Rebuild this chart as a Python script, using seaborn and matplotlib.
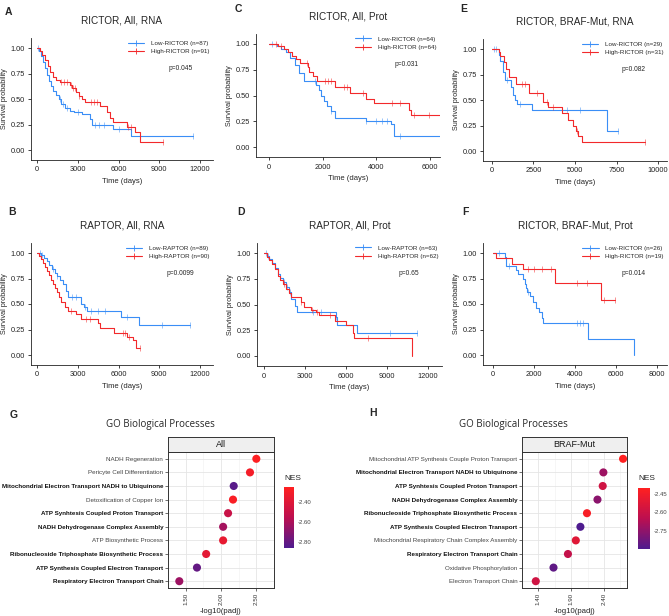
import numpy as np
import pandas as pd
import seaborn as sns
import matplotlib.pyplot as plt
from matplotlib.colors import LinearSegmentedColormap, Normalize
from matplotlib.cm import ScalarMappable
from matplotlib.lines import Line2D

# --- Kaplan-Meier curves: step times (days) and survival after each step ---
a_low_t = [0, 150, 300, 450, 600, 750, 900, 1050, 1200, 1400, 1600, 1800, 2050, 2400, 2700, 3300, 3900, 4050, 5600, 6950, 11500]
a_low_s = [1.0, 0.97, 0.92, 0.86, 0.80, 0.74, 0.68, 0.63, 0.58, 0.54, 0.50, 0.45, 0.41, 0.38, 0.37, 0.35, 0.30, 0.25, 0.21, 0.14, 0.14]
a_low_cens = [100, 1700, 1900, 2200, 3000, 4300, 4600, 4900, 6000, 11500]
a_high_t = [0, 200, 400, 600, 800, 950, 1150, 1400, 1700, 2400, 2600, 2900, 3100, 3300, 3530, 4650, 5150, 5390, 5620, 6600, 7200, 7550, 9250]
a_high_s = [1.0, 0.97, 0.93, 0.88, 0.82, 0.76, 0.72, 0.69, 0.67, 0.64, 0.61, 0.57, 0.53, 0.50, 0.47, 0.43, 0.37, 0.31, 0.27, 0.23, 0.18, 0.08, 0.08]
a_high_cens = [1800, 2000, 2200, 2500, 2650, 2800, 3100, 4000, 4200, 4400, 6700, 6900, 9250]

b_low_t = [0, 300, 500, 700, 900, 1100, 1300, 1500, 1700, 1900, 2100, 2300, 3250, 3450, 3700, 6150, 7520, 11300]
b_low_s = [1.0, 0.98, 0.95, 0.92, 0.88, 0.84, 0.80, 0.77, 0.74, 0.70, 0.63, 0.57, 0.50, 0.47, 0.43, 0.37, 0.29, 0.29]
b_low_cens = [200, 400, 1200, 1500, 2600, 2900, 3500, 4000, 4500, 5000, 6600, 9200, 11300]
b_high_t = [0, 150, 300, 450, 600, 750, 900, 1050, 1200, 1350, 1500, 1650, 1800, 2050, 2300, 2900, 3250, 4500, 4650, 5700, 6600, 7050, 7300, 7600]
b_high_s = [1.0, 0.97, 0.94, 0.90, 0.86, 0.82, 0.78, 0.74, 0.70, 0.66, 0.62, 0.57, 0.52, 0.47, 0.43, 0.40, 0.35, 0.31, 0.26, 0.22, 0.18, 0.15, 0.07, 0.07]
b_high_cens = [2500, 3600, 3900, 6300, 6500, 6800, 7600]

c_low_t = [0, 300, 450, 650, 800, 950, 1100, 1300, 1750, 1850, 1950, 2050, 2150, 2300, 2450, 3600, 4550, 4650, 6400]
c_low_s = [1.0, 0.98, 0.95, 0.92, 0.86, 0.80, 0.72, 0.64, 0.60, 0.55, 0.50, 0.45, 0.40, 0.35, 0.28, 0.25, 0.22, 0.11, 0.11]
c_low_cens = [100, 1700, 2300, 3600, 4000, 4200, 4400, 4900]
c_high_t = [0, 350, 550, 700, 850, 1000, 1150, 1450, 1500, 1650, 1800, 2450, 3000, 3600, 3900, 5200, 5300, 6400]
c_high_s = [1.0, 0.98, 0.95, 0.92, 0.88, 0.85, 0.82, 0.78, 0.73, 0.69, 0.64, 0.58, 0.52, 0.47, 0.43, 0.36, 0.31, 0.31]
c_high_cens = [250, 450, 1400, 2100, 2200, 2300, 2800, 2900, 3500, 4600, 4900, 5400, 5950]

d_low_t = [0, 200, 400, 600, 800, 1000, 1200, 1400, 1600, 1800, 2000, 2250, 2450, 5250, 5350, 6800, 11200]
d_low_s = [1.0, 0.97, 0.94, 0.90, 0.85, 0.80, 0.76, 0.72, 0.67, 0.62, 0.55, 0.49, 0.43, 0.38, 0.30, 0.22, 0.22]
d_low_cens = [150, 300, 1500, 1700, 1900, 3600, 4200, 5300, 9200, 11200]
d_high_t = [0, 200, 400, 600, 800, 1000, 1200, 1400, 1600, 1800, 2000, 2700, 2900, 3450, 3800, 4050, 5200, 6000, 6500, 6600, 10800]
d_high_s = [1.0, 0.96, 0.93, 0.89, 0.84, 0.78, 0.74, 0.70, 0.65, 0.61, 0.57, 0.52, 0.48, 0.45, 0.43, 0.40, 0.34, 0.30, 0.22, 0.17, 0.0]
d_high_cens = [1500, 2700, 3500, 3900, 4800, 7600]

e_low_t = [0, 400, 500, 650, 800, 1150, 1250, 1400, 1500, 2400, 6950, 7600]
e_low_s = [1.0, 0.94, 0.88, 0.77, 0.70, 0.63, 0.55, 0.50, 0.46, 0.40, 0.20, 0.20]
e_low_cens = [150, 250, 900, 1700, 4500, 5300, 7600]
e_high_t = [0, 400, 500, 750, 850, 1000, 1450, 2250, 3100, 3400, 4200, 4600, 4900, 5050, 5200, 5400, 9200]
e_high_s = [1.0, 0.97, 0.93, 0.87, 0.80, 0.73, 0.66, 0.57, 0.48, 0.43, 0.37, 0.30, 0.25, 0.20, 0.15, 0.09, 0.09]
e_high_cens = [1800, 2000, 2700, 3300, 3700, 5100, 9200]

f_low_t = [0, 570, 650, 1100, 1220, 1470, 1550, 1630, 1680, 1800, 1930, 2120, 2250, 2370, 2450, 4620, 6860]
f_low_s = [1.0, 0.96, 0.87, 0.83, 0.79, 0.75, 0.70, 0.66, 0.62, 0.58, 0.52, 0.46, 0.42, 0.36, 0.31, 0.16, 0.0]
f_low_cens = [300, 800, 1700, 4100, 4250, 4400]
f_high_t = [0, 160, 950, 1470, 3020, 5270, 5960]
f_high_s = [1.0, 0.95, 0.89, 0.84, 0.71, 0.54, 0.54]
f_high_cens = [1700, 2000, 2400, 2850, 4100, 4600, 5400, 5950]

km_titles = ["RICTOR, All, RNA", "RAPTOR, All, RNA", "RICTOR, All, Prot",
             "RAPTOR, All, Prot", "RICTOR, BRAF-Mut, RNA", "RICTOR, BRAF-Mut, Prot"]
km_letters = ["A", "B", "C", "D", "E", "F"]
km_low_labels = ["Low-RICTOR (n=87)", "Low-RAPTOR (n=89)", "Low-RICTOR (n=64)",
                 "Low-RAPTOR (n=63)", "Low-RICTOR (n=29)", "Low-RICTOR (n=26)"]
km_high_labels = ["High-RICTOR (n=91)", "High-RAPTOR (n=90)", "High-RICTOR (n=64)",
                  "High-RAPTOR (n=62)", "High-RICTOR (n=31)", "High-RICTOR (n=19)"]
km_pvalues = ["p=0.045", "p=0.0099", "p=0.031", "p=0.65", "p=0.082", "p=0.014"]
km_xticks = [[0, 3000, 6000, 9000, 12000], [0, 3000, 6000, 9000, 12000], [0, 2000, 4000, 6000],
             [0, 3000, 6000, 9000, 12000], [0, 2500, 5000, 7500, 10000], [0, 2000, 4000, 6000, 8000]]

# --- GO enrichment ---
go_all_terms = ["NADH Regeneration", "Pericyte Cell Differentiation",
                "Mitochondrial Electron Transport NADH to Ubiquinone", "Detoxification of Copper Ion",
                "ATP Synhtesis Coupled Proton Transport", "NADH Dehydrogenase Complex Assembly",
                "ATP Biosynthetic Process", "Ribonucleoside Triphosphate Biosynthetic Process",
                "ATP Synthesis Coupled Electron Transport", "Respiratory Electron Transport Chain"]
go_all_logp = [2.50, 2.41, 2.18, 2.17, 2.10, 2.03, 2.03, 1.79, 1.66, 1.41]
go_all_nes = [-2.26, -2.30, -2.83, -2.28, -2.50, -2.62, -2.36, -2.38, -2.80, -2.64]
go_all_bold = [False, False, True, False, True, True, False, True, True, True]

go_braf_terms = ["Mitochondrial ATP Synthesis Couple Proton Transport",
                 "Mitochondrial Electron Transport NADH to Ubiquinone",
                 "ATP Synhtesis Coupled Proton Transport", "NADH Dehydrogenase Complex Assembly",
                 "Ribonucleoside Triphosphate Biosynthetic Process", "ATP Synthesis Coupled Electron Transport",
                 "Mitochondrial Respiratory Chain Complex Assembly", "Respiratory Electron Transport Chain",
                 "Oxidative Phosphorylation", "Electron Transport Chain"]
go_braf_logp = [2.69, 2.39, 2.38, 2.30, 2.14, 2.04, 1.97, 1.85, 1.63, 1.36]
go_braf_nes = [-2.40, -2.72, -2.58, -2.76, -2.43, -2.90, -2.52, -2.62, -2.86, -2.58]
go_braf_bold = [False, True, True, True, True, True, False, True, False, False]

BLUE = "#3A8EF6"
RED = "#F2292B"
W, H = 669, 616

sns.set_style("ticks")
plt.rcParams["font.family"] = ["Liberation Sans", "DejaVu Sans"]

fig = plt.figure(figsize=(W / 100, H / 100), dpi=100)


def px_axes(l, t, r, b):
    return fig.add_axes([l / W, 1 - b / H, (r - l) / W, (b - t) / H])


def step_value(times, surv, c):
    i = np.searchsorted(times, c, side="right") - 1
    return surv[i]


km_curves = [
    (a_low_t, a_low_s, a_low_cens, a_high_t, a_high_s, a_high_cens),
    (b_low_t, b_low_s, b_low_cens, b_high_t, b_high_s, b_high_cens),
    (c_low_t, c_low_s, c_low_cens, c_high_t, c_high_s, c_high_cens),
    (d_low_t, d_low_s, d_low_cens, d_high_t, d_high_s, d_high_cens),
    (e_low_t, e_low_s, e_low_cens, e_high_t, e_high_s, e_high_cens),
    (f_low_t, f_low_s, f_low_cens, f_high_t, f_high_s, f_high_cens),
]
# pixel boxes (left, top, right, bottom) and x limits
km_boxes = [(31, 37.8, 213, 160.2), (31, 242.8, 213, 365.2), (256, 33.7, 440, 157.3),
            (257, 242.7, 442, 366.3), (483, 38.8, 667, 161.2), (483, 242.8, 667, 365.2)]
km_xlims = [(-442, 12957), (-442, 12957), (-485, 6373), (-512, 13024), (-542, 10542), (-488, 8488)]
letter_pos = [(5, 12), (8, 212), (235, 9), (237, 212), (460, 9), (462, 212)]

for k in range(6):
    ax = px_axes(*km_boxes[k])
    lt, ls, lc, ht, hs, hc = km_curves[k]
    # low group drawn first, high on top
    for t, s, cens, col in [(lt, ls, lc, BLUE), (ht, hs, hc, RED)]:
        sns.lineplot(x=t, y=s, drawstyle="steps-post", color=col, lw=0.8,
                     estimator=None, sort=False, ax=ax)
        cy = [step_value(np.array(t), np.array(s), c) for c in cens]
        ax.plot(cens, cy, linestyle="none", marker="|", color=col, ms=4, mew=0.6, alpha=0.6)
    ax.set_xlim(*km_xlims[k])
    ax.set_ylim(-0.1, 1.1)
    ax.set_xticks(km_xticks[k])
    ax.set_xticklabels([str(v) for v in km_xticks[k]])
    ax.set_yticks([0, 0.25, 0.5, 0.75, 1.0])
    ax.set_yticklabels(["0.00", "0.25", "0.50", "0.75", "1.00"])
    ax.tick_params(labelsize=5.3, length=2.5, width=0.6, pad=2, colors="#222222")
    sns.despine(ax=ax)
    for sp in ["left", "bottom"]:
        ax.spines[sp].set_linewidth(0.6)
        ax.spines[sp].set_color("#222222")
    ax.set_xlabel("Time (days)", fontsize=5.5, labelpad=3)
    ax.set_ylabel("Survival probability", fontsize=5.2, labelpad=2)
    ax.set_title(km_titles[k], fontsize=7.2, pad=10)
    handles = [Line2D([], [], color=BLUE, lw=0.8, marker="|", ms=4, mew=0.6),
               Line2D([], [], color=RED, lw=0.8, marker="|", ms=4, mew=0.6)]
    ax.legend(handles, [km_low_labels[k], km_high_labels[k]], loc="upper right",
              bbox_to_anchor=(1.0, 1.01), frameon=False, fontsize=4.5, numpoints=1,
              borderaxespad=0.2, handlelength=2.6, handletextpad=1.0, labelspacing=0.5)
    ax.text(0.82, 0.75, km_pvalues[k], transform=ax.transAxes, fontsize=4.8,
            ha="center", va="center")
    fig.text(letter_pos[k][0] / W, 1 - letter_pos[k][1] / H, km_letters[k],
             fontsize=7.5, fontweight="bold", ha="left", va="center")

# --- GO dot plots ---
go_cmap = LinearSegmentedColormap.from_list("nes", ["#4E1B8F", "#BC0F50", "#FF2020"])

go_panels = [
    (go_all_terms, go_all_logp, go_all_nes, go_all_bold, "All",
     (168, 452, 274, 588), (1.345, 2.566), [1.5, 2.0, 2.5], ["1.50", "2.00", "2.50"],
     (284, 487, 294, 548), (-2.86, -2.25), [-2.8, -2.6, -2.4], ["-2.80", "-2.60", "-2.40"],
     (160, 425), (10, 415), "G"),
    (go_braf_terms, go_braf_logp, go_braf_nes, go_braf_bold, "BRAF-Mut",
     (522, 452, 627, 588), (1.299, 2.75), [1.4, 1.9, 2.4], ["1.40", "1.90", "2.40"],
     (638, 488, 650, 549), (-2.90, -2.40), [-2.75, -2.6, -2.45], ["-2.75", "-2.60", "-2.45"],
     (513, 424), (369, 413), "H"),
]

for (terms, logp, nes, bold, strip, box, xlim, xt, xtl, cbox, nlim, ct, ctl,
     tpos, lpos, letter) in go_panels:
    df = pd.DataFrame({"term": terms, "logp": logp, "NES": nes})
    ax = px_axes(*box)
    ax.set_axisbelow(True)
    sns.scatterplot(data=df, x="logp", y="term", hue="NES", palette=go_cmap,
                    hue_norm=nlim, s=34, edgecolor="none", legend=False, ax=ax, zorder=3)
    ax.set_ylim(len(terms) - 0.5, -0.5)
    ax.set_xlim(*xlim)
    ax.set_xticks(xt)
    ax.set_xticklabels(xtl, rotation=90)
    step = xt[1] - xt[0]
    ax.set_xticks([v + step / 2 for v in [xt[0] - step] + xt], minor=True)
    ax.grid(which="major", color="#E5E5E5", lw=0.6)
    ax.grid(which="minor", axis="x", color="#EFEFEF", lw=0.4)
    ax.set_ylabel("")
    ax.set_xlabel("-log10(padj)", fontsize=5.6, labelpad=2)
    ax.tick_params(axis="both", labelsize=4.5, length=2, width=0.5, pad=1.5,
                   colors="#333333")
    ax.tick_params(which="minor", length=0)
    for lab, b in zip(ax.get_yticklabels(), bold):
        lab.set_fontweight("bold" if b else "normal")
        lab.set_color("#111111" if b else "#444444")
    for sp in ax.spines.values():
        sp.set_visible(True)
        sp.set_color("#333333")
        sp.set_linewidth(0.7)

    sax = px_axes(box[0], box[1] - 15, box[2], box[1])
    sax.set_facecolor("#EFEFEF")
    sax.set_xticks([])
    sax.set_yticks([])
    for sp in sax.spines.values():
        sp.set_visible(True)
        sp.set_color("#333333")
        sp.set_linewidth(0.7)
    sax.text(0.5, 0.5, strip, ha="center", va="center", fontsize=6.5, color="#1A1A1A")

    cax = px_axes(*cbox)
    cb = fig.colorbar(ScalarMappable(norm=Normalize(*nlim), cmap=go_cmap), cax=cax)
    cb.outline.set_visible(False)
    cb.set_ticks(ct)
    cb.set_ticklabels(ctl)
    cax.yaxis.set_ticks_position("both")
    cax.tick_params(direction="in", color="white", length=2.5, width=0.5,
                    labelsize=4.3, labelcolor="#444444", pad=2.5)
    fig.text(cbox[0] / W, 1 - (cbox[1] - 9) / H, "NES", fontsize=6, ha="left", va="center")

    fig.text(tpos[0] / W, 1 - tpos[1] / H, "GO Biological Processes", fontsize=7,
             ha="center", va="center", family=["Open Sans", "DejaVu Sans"])
    fig.text(lpos[0] / W, 1 - lpos[1] / H, letter, fontsize=7.5, fontweight="bold",
             ha="left", va="center")

fig.savefig("out.png", dpi=100)
